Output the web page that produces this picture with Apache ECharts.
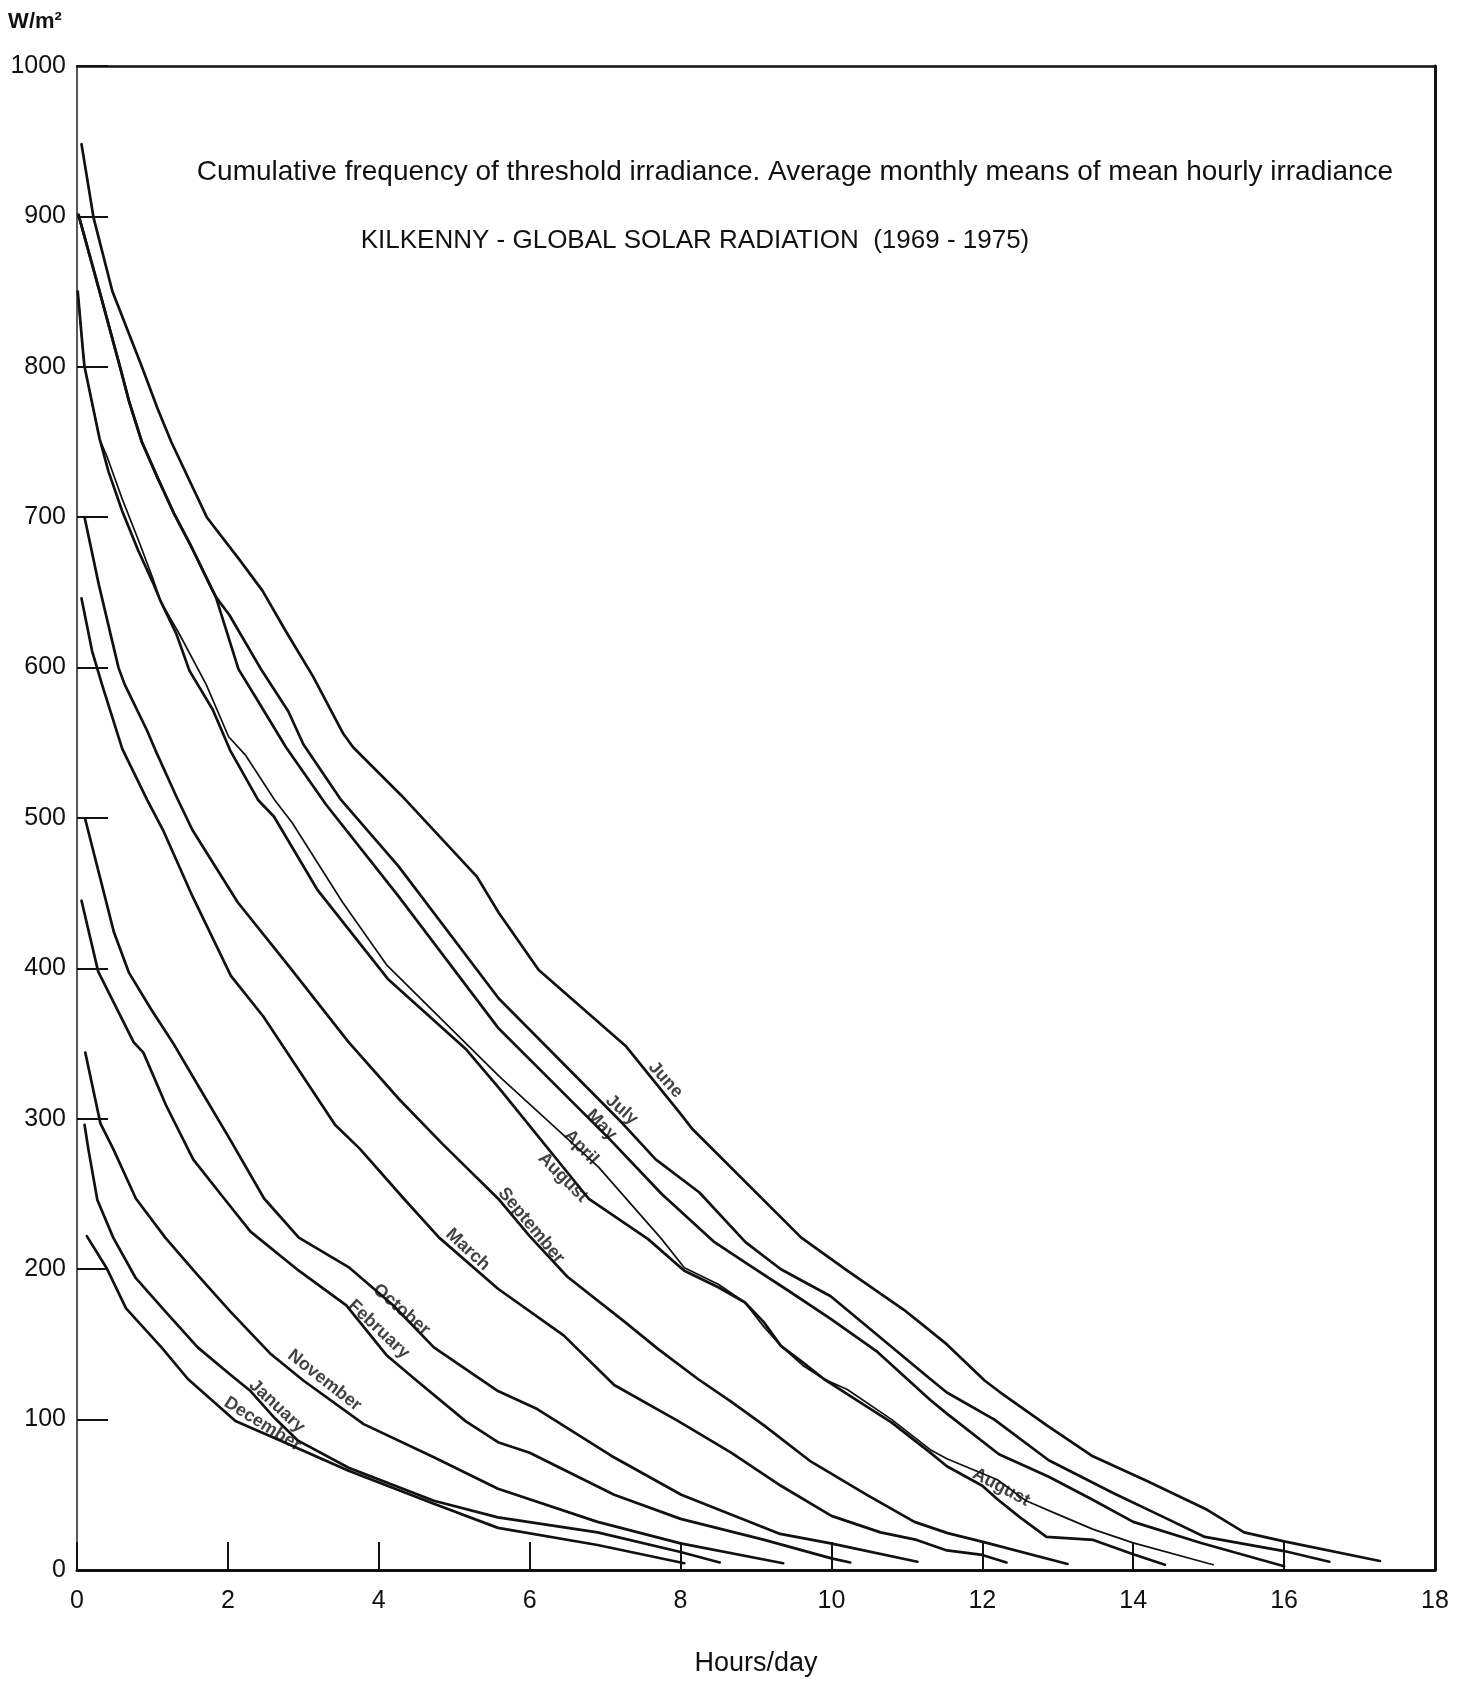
<!DOCTYPE html>
<html>
<head>
<meta charset="utf-8">
<title>Kilkenny - Global Solar Radiation</title>
<script src="https://cdn.jsdelivr.net/npm/echarts@6/dist/echarts.min.js"></script>
<style>
  html, body { margin: 0; padding: 0; background: #ffffff; }
  #chart { width: 1463px; height: 1682px; }
</style>
</head>
<body>
<div id="chart"></div>
<script>
// ---------------- data (hours/day, W/m2) ----------------
const june = [[0.06,948],[0.22,899],[0.47,850],[0.86,800],[1.07,772],[1.25,750],[1.72,700],[2.15,672],[2.46,651],[2.77,624],[3.13,594],[3.53,556],[3.66,547],[4.3,515],[5.3,461],[5.59,437],[6.12,399],[7.28,348],[7.99,304],[8.16,293],[9.6,221],[10.21,199],[10.96,173],[11.26,161],[11.53,150],[12.03,126],[12.24,118],[12.86,96],[13.45,76],[14.19,59],[14.98,40],[15.47,25],[16.0,19],[17.27,6]];
const july = [[0.02,901],[0.3,850],[0.57,800],[0.69,777],[0.86,750],[1.07,726],[1.29,702],[1.5,682],[1.8,651],[1.84,647],[2.02,635],[2.45,598],[2.8,571],[3.0,549],[3.5,512],[4.26,468],[5.59,380],[7.23,297],[7.67,273],[8.25,251],[8.86,218],[9.33,200],[9.99,182],[11.31,127],[11.53,118],[12.16,100],[12.88,73],[13.74,51],[14.41,35],[14.95,22],[16.0,12.6],[16.6,5.5]];
const may = [[0.02,901],[0.3,850],[0.57,800],[0.69,777],[0.86,750],[1.07,726],[1.29,702],[1.5,682],[1.8,651],[1.84,647],[2.14,599],[2.36,581],[2.77,547],[3.3,509],[4.26,448],[5.59,360],[7.05,287],[7.75,250],[8.45,218],[8.93,202],[9.42,186],[9.99,167],[10.61,145],[11.31,113],[11.53,104],[12.22,77],[12.88,62],[13.45,47],[14.0,32],[14.9,18],[16.0,2.5]];
const april = [[0.01,850],[0.08,810],[0.1,800],[0.3,752],[0.4,740],[0.6,712],[0.82,684],[1.0,660],[1.11,644],[1.36,622],[1.71,589],[2.01,554],[2.23,542],[2.62,512],[2.85,497],[3.52,444],[4.11,402],[5.6,328],[6.91,268],[7.75,220],[8.05,201],[8.5,190],[8.85,178],[9.1,162],[9.33,149],[9.62,136],[9.9,127],[10.21,120],[10.8,100],[11.31,80],[11.53,74],[12.2,60],[12.58,46],[13.0,37],[13.47,27],[14.0,18],[15.06,3.5]];
const august = [[0.01,850],[0.08,810],[0.1,800],[0.3,752],[0.42,730],[0.6,704],[0.81,678],[1.02,655],[1.11,644],[1.32,622],[1.49,598],[1.8,572],[2.03,545],[2.4,512],[2.61,501],[3.19,452],[4.12,393],[5.16,346],[5.6,320],[6.78,247],[7.57,220],[8.05,199],[8.5,188],[8.85,178],[9.1,165],[9.33,149],[9.62,138],[9.9,127],[10.21,117],[10.8,98],[11.31,78],[11.53,69],[12.0,56],[12.2,47],[12.5,35],[12.85,22],[13.47,20],[14.0,10.5],[14.42,3.5]];
const september = [[0.1,700],[0.29,655],[0.55,600],[0.63,589],[0.93,558],[1.04,545],[1.32,514],[1.53,492],[2.13,444],[2.8,402],[3.6,351],[4.27,313],[4.85,283],[5.6,246],[6.0,222],[6.5,195],[7.26,165],[7.7,147],[8.23,127],[8.67,112],[9.11,96],[9.73,72],[10.47,50],[11.1,32],[11.54,24.5],[12.02,18.5],[13.13,4]];
const march = [[0.06,646],[0.2,611],[0.33,589],[0.6,546],[0.93,512],[1.14,492],[1.53,448],[2.04,395],[2.47,368],[3.42,296],[3.75,280],[4.33,247],[4.8,221],[5.58,187],[6.45,156],[7.12,123],[7.97,99],[8.67,78],[9.33,56],[10.0,36],[10.65,25],[11.13,20],[11.53,13],[12.0,10],[12.32,5]];
const october = [[0.11,499],[0.49,424],[0.69,397],[0.98,373],[1.29,349],[1.63,320],[2.02,287],[2.48,247],[2.94,221],[3.61,201],[4.19,176],[4.73,148],[5.58,119],[6.1,107],[7.08,76],[8.01,50],[9.32,24],[9.99,17.7],[11.14,5.5]];
const february = [[0.06,445],[0.28,398],[0.75,351],[0.88,344],[1.18,309],[1.54,273],[1.95,247],[2.3,225],[2.94,199],[3.57,176],[4.1,143],[4.5,126],[5.15,99],[5.58,85],[6.0,78],[7.12,50],[8.0,34],[9.11,20],[10.0,7.7],[10.25,5]];
const november = [[0.11,344],[0.31,297],[0.48,280],[0.78,247],[1.17,221],[1.6,196],[2.03,172],[2.56,144],[3.0,126],[3.8,97],[4.73,75],[5.58,54],[6.9,32],[8.0,17.7],[9.36,4.5]];
const january = [[0.1,296],[0.15,280],[0.27,246],[0.48,221],[0.78,194],[1.17,172],[1.6,148],[2.03,130],[2.3,119],[2.62,101],[2.93,86],[3.6,68],[4.73,46],[5.58,35],[6.9,25],[8.0,12],[8.52,5]];
const december = [[0.13,222],[0.39,201],[0.65,174],[1.12,148],[1.47,127],[2.1,99],[2.7,86],[3.6,66],[4.73,44],[5.58,28],[6.9,16.6],[8.05,4.5]];

const monthNames = ['June','July','May','April','August','September','March','October','February','November','January','December'];
const monthData  = [june, july, may, april, august, september, march, october, february, november, january, december];

// curve labels: [name, hours, W/m2, angle]
const curveLabels = [
  ['June', 7.8, 326, -48],
  ['July', 7.22, 306, -41],
  ['May', 6.95, 296, -45],
  ['April', 6.68, 281, -46],
  ['August', 6.44, 261, -45],
  ['September', 6.02, 229, -50],
  ['March', 5.18, 213, -43],
  ['October', 4.3, 173, -41],
  ['February', 4.0, 160, -43],
  ['November', 3.28, 126, -38],
  ['January', 2.65, 109, -43],
  ['December', 2.46, 97, -32],
  ['August', 12.25, 55, -28]
];

const titleLine1 = 'Cumulative frequency of threshold irradiance. Average monthly means of mean hourly irradiance';
const titleLine2 = 'KILKENNY - GLOBAL SOLAR RADIATION  (1969 - 1975)';
const yUnit = 'W/m\u00B2';
const xName = 'Hours/day';

// ---------------- chart ----------------
const FONT = 'Liberation Sans, Arial, sans-serif';
const INK = '#111111';
const chart = echarts.init(document.getElementById('chart'), null, { renderer: 'canvas' });

const lineSeries = monthNames.map((name, i) => ({
  name: name,
  type: 'line',
  data: monthData[i],
  xAxisIndex: 0,
  yAxisIndex: 0,
  symbol: 'none',
  smooth: false,
  silent: true,
  lineStyle: { color: INK, width: name === 'April' ? 1.7 : 2.7, join: 'round', cap: 'round' },
  z: 3
}));

const labelSeries = {
  type: 'scatter',
  xAxisIndex: 0,
  yAxisIndex: 0,
  symbol: 'circle',
  symbolSize: 2,
  silent: true,
  itemStyle: { color: 'rgba(255,255,255,0)' },
  data: curveLabels.map(l => ({
    name: l[0],
    value: [l[1], l[2]],
    label: { rotate: l[3] }
  })),
  label: {
    show: true,
    position: 'inside',
    formatter: function (p) { return p.name; },
    fontFamily: FONT,
    fontSize: 18,
    fontWeight: 'bold',
    color: INK
  },
  labelLayout: { hideOverlap: false },
  z: 5
};

const option = {
  animation: false,
  backgroundColor: '#ffffff',
  grid: { left: 77, right: 28, top: 66, bottom: 105, containLabel: false },
  xAxis: [
    {
      type: 'value', min: 0, max: 18, interval: 2, position: 'bottom',
      name: xName, nameLocation: 'middle', nameGap: 80,
      nameTextStyle: { fontFamily: FONT, fontSize: 27, color: INK },
      axisLine: { show: true, onZero: false, lineStyle: { color: INK, width: 3 } },
      axisTick: { show: true, inside: true, length: 28, lineStyle: { color: INK, width: 2 } },
      axisLabel: { fontFamily: FONT, fontSize: 25, color: INK, margin: 19 },
      splitLine: { show: false }
    },
    {
      type: 'value', min: 0, max: 18, position: 'top',
      axisLine: { show: true, onZero: false, lineStyle: { color: INK, width: 2.5 } },
      axisTick: { show: false }, axisLabel: { show: false }, splitLine: { show: false }
    }
  ],
  yAxis: [
    {
      type: 'value', min: 0, max: 1000, interval: 100, position: 'left',
      axisLine: { show: true, onZero: false, lineStyle: { color: '#222222', width: 1.5 } },
      axisTick: { show: true, inside: true, length: 31, lineStyle: { color: INK, width: 2 } },
      axisLabel: { fontFamily: FONT, fontSize: 25, color: INK, margin: 11, formatter: function (v) { return String(v); } },
      splitLine: { show: false }
    },
    {
      type: 'value', min: 0, max: 1000, position: 'right',
      axisLine: { show: true, onZero: false, lineStyle: { color: INK, width: 3 } },
      axisTick: { show: false }, axisLabel: { show: false }, splitLine: { show: false }
    }
  ],
  graphic: [
    { type: 'text', x: 795, y: 172, style: { text: titleLine1, font: '28px ' + FONT, fill: INK, align: 'center', verticalAlign: 'middle' } },
    { type: 'text', x: 695, y: 241, style: { text: titleLine2, font: '26px ' + FONT, fill: INK, align: 'center', verticalAlign: 'middle' } },
    { type: 'text', x: 35, y: 22, style: { text: yUnit, font: 'bold 22px ' + FONT, fill: INK, align: 'center', verticalAlign: 'middle' } }
  ],
  series: lineSeries.concat([labelSeries])
};

chart.setOption(option);
</script>
</body>
</html>
